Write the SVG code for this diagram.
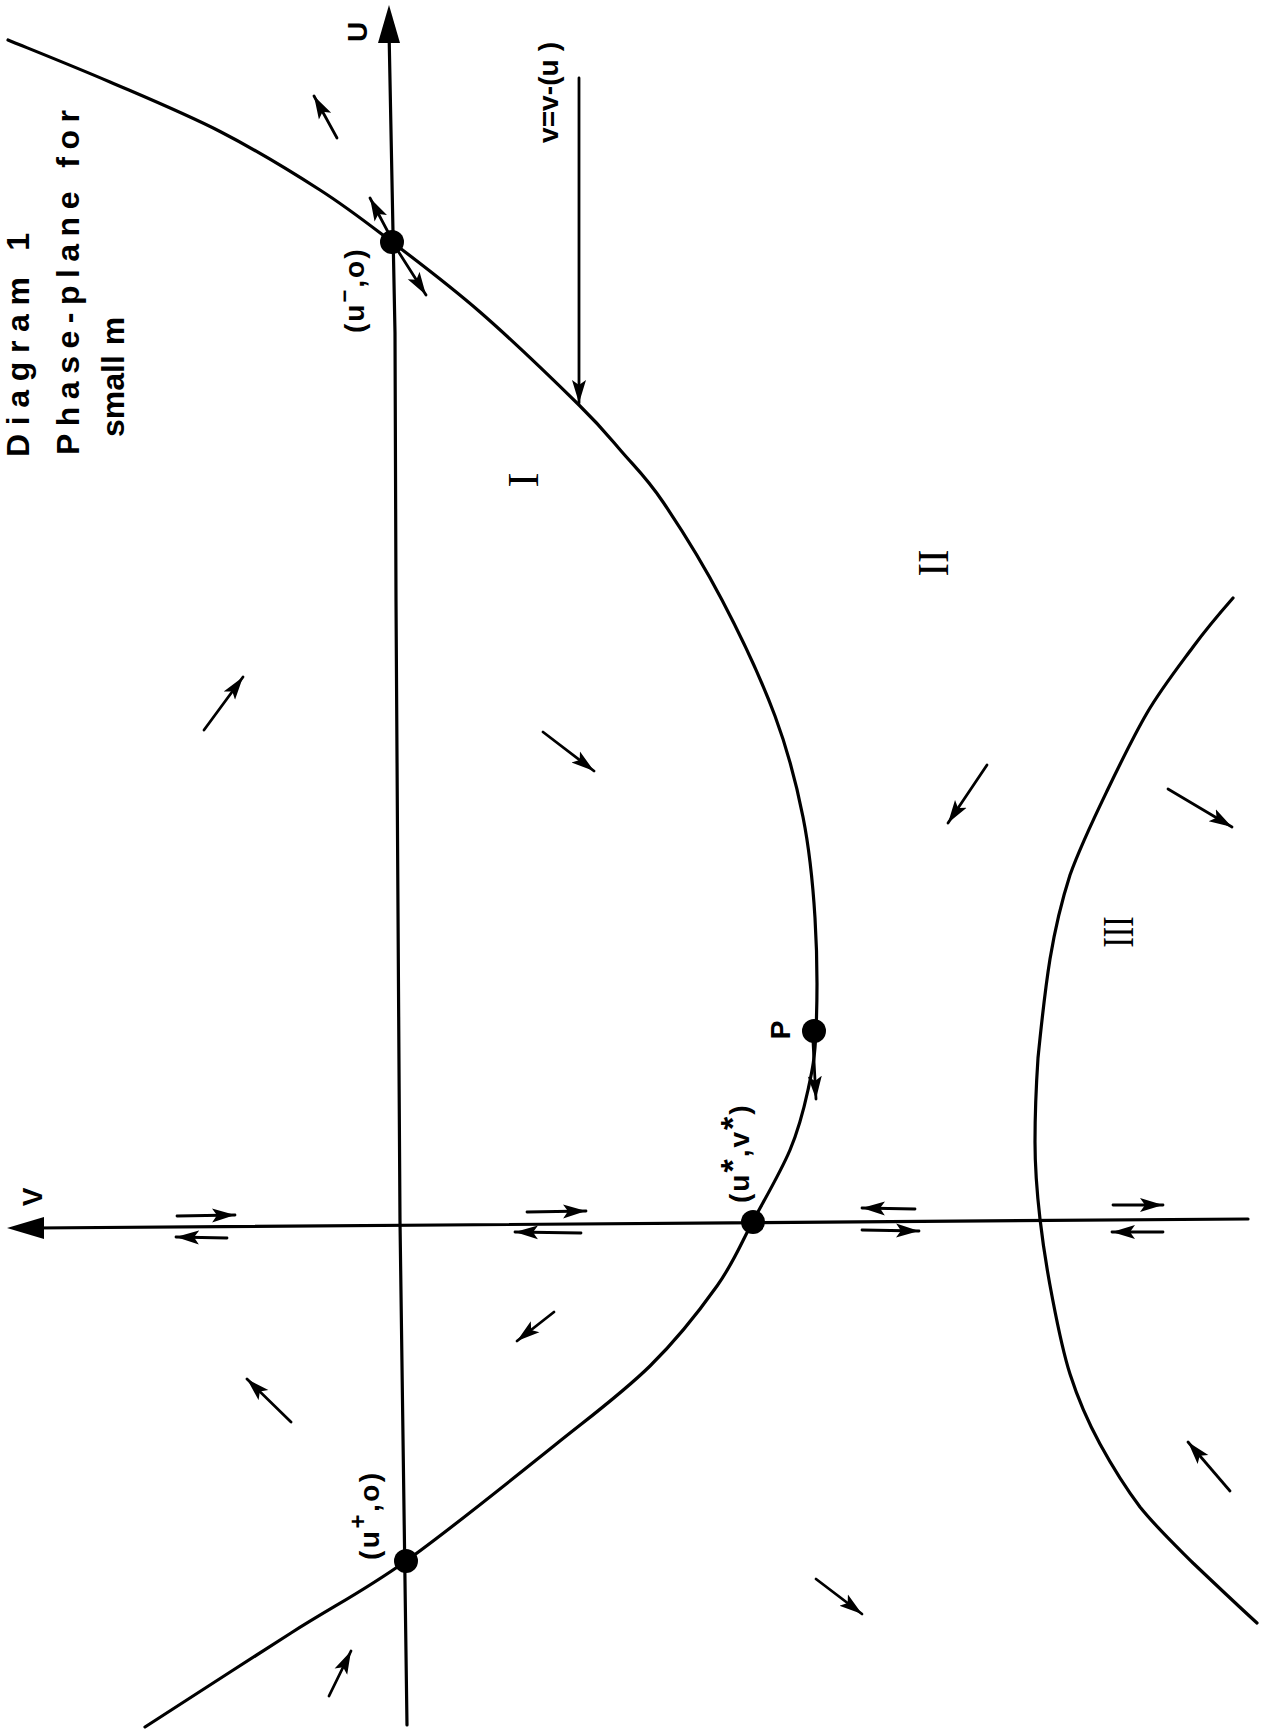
<svg xmlns="http://www.w3.org/2000/svg" width="1270" height="1733" viewBox="0 0 1270 1733">
<defs>
<style>
.ln{fill:none;stroke:#000;stroke-width:3.2;stroke-linecap:round;stroke-linejoin:round}
.ar{fill:none;stroke:#000;stroke-width:2.8;stroke-linecap:round;marker-end:url(#ah)}
.dot{fill:#000}
.lbl{font-family:"Liberation Sans",Arial,sans-serif;font-size:28px;font-weight:bold;fill:#000}
.ttl{font-family:"Liberation Sans",Arial,sans-serif;font-size:32px;font-weight:bold;fill:#000}
.rom{font-family:"Liberation Serif","Times New Roman",serif;font-size:45px;fill:#000}
</style>
<marker id="ah" markerUnits="userSpaceOnUse" markerWidth="26" markerHeight="16" refX="23" refY="7.5" orient="auto">
<path d="M0,0.5 L23,7.5 L0,14.5 L5,7.5 z" fill="#000"/>
</marker>
</defs>
<rect width="1270" height="1733" fill="#fff"/>

<g id="title">
<text class="ttl" transform="translate(29,457) rotate(-90)" textLength="224" lengthAdjust="spacing">Diagram 1</text>
<text class="ttl" transform="translate(79,455) rotate(-90)" textLength="345" lengthAdjust="spacing">Phase-plane for</text>
<text class="ttl" transform="translate(124,437) rotate(-90)">small<tspan dx="10">m</tspan></text>
</g>

<g id="connectors">
<g id="axis-U">
<path class="ln" d="M389,30 L395,333 L396,600 L400,1221 L407,1725"/>
<polygon points="389,5 378,43 400,43" fill="#000"/>
</g>
<g id="axis-V">
<path class="ln" d="M35,1228 L1248,1219"/>
<polygon points="7,1228 44,1217 44,1239" fill="#000"/>
</g>
<path id="curve-v-minus" class="ln" d="M8,40 C25,47 74.5,66.7 110,82 C145.5,97.3 186,114 221,132 C256,150 291.5,171.7 320,190 C348.5,208.3 365.3,221.7 392,242 C418.7,262.3 448.8,284.8 480,312 C511.2,339.2 555.3,381.7 579,405 C602.7,428.3 608,435.8 622,452 C636,468.2 646.3,477.3 663,502 C679.7,526.7 703.3,564.3 722,600 C740.7,635.7 761.5,679.8 775,716 C788.5,752.2 796.3,783.3 803,817 C809.7,850.7 812.8,882.3 815,918 C817.2,953.7 817.2,1002.3 816,1031 C814.8,1059.7 812.3,1070.2 808,1090 C803.7,1109.8 799.2,1128.2 790,1150 C780.8,1171.8 765.2,1198.3 753,1221 C740.8,1243.7 734.2,1261.8 717,1286 C699.8,1310.2 677,1339.5 650,1366 C623,1392.5 595.7,1412.5 555,1445 C514.3,1477.5 450,1529.7 406,1561 C362,1592.3 334.5,1605.3 291,1633 C247.5,1660.7 169.3,1711.3 145,1727"/>
<path id="curve-lower" class="ln" d="M1233,598 C1226,606 1207,628 1193,647 C1179,666 1161,689 1147,713 C1133,737 1120,764 1107,791 C1094,818 1080,847 1070,875 C1061,903 1055,929 1050,959 C1045,990 1041,1028 1038,1058 C1036,1088 1035,1115 1035,1142 C1035,1169 1037,1193 1040,1219 C1043,1245 1047,1270 1052,1296 C1057,1322 1062,1349 1070,1374 C1078,1399 1088,1422 1100,1444 C1112,1466 1125,1487 1140,1507 C1156,1527 1174,1544 1193,1563 C1213,1582 1246,1613 1257,1623"/>
<path id="pointer-v-minus" class="ar" d="M579,78 L579,403"/>
<g id="field-arrows">
<path class="ar" d="M337,138 L314,96"/>
<path class="ar" d="M204,730 L243,677"/>
<path class="ar" d="M543,732 L594,771"/>
<path class="ar" d="M987,765 L948,823"/>
<path class="ar" d="M1168,789 L1232,827"/>
<path class="ar" d="M554,1312 L517,1341"/>
<path class="ar" d="M291,1422 L247,1379"/>
<path class="ar" d="M1230,1491 L1188,1442"/>
<path class="ar" d="M816,1579 L862,1614"/>
<path class="ar" d="M329,1696 L351,1651"/>
</g>
<g id="axis-arrows">
<path class="ar" d="M177,1216 L235,1215"/>
<path class="ar" d="M227,1238 L176,1237"/>
<path class="ar" d="M527,1212 L586,1211"/>
<path class="ar" d="M581,1233 L515,1232"/>
<path class="ar" d="M915,1209 L862,1208"/>
<path class="ar" d="M862,1230 L919,1231"/>
<path class="ar" d="M1113,1205 L1163,1205"/>
<path class="ar" d="M1163,1232 L1112,1232"/>
</g>
<g id="point-arrows">
<path class="ar" d="M388,232 L370,198"/>
<path class="ar" d="M398,251 L426,295"/>
<path class="ar" d="M813,1042 L816,1099"/>
</g>
</g>

<g id="label-U"><text class="lbl" font-size="30" text-anchor="middle" transform="translate(367,32) rotate(-90)">U</text></g>
<g id="label-V"><text class="lbl" font-size="30" text-anchor="middle" transform="translate(42,1197) rotate(-90)">V</text></g>
<g id="label-v-minus"><text class="lbl" transform="translate(558,143) rotate(-90)" textLength="101" lengthAdjust="spacing">v=v-(u )</text></g>

<g id="node-u-minus">
<circle class="dot" cx="392" cy="242" r="12"/>
<text class="lbl" letter-spacing="2" transform="translate(364,333) rotate(-90)">(u<tspan baseline-shift="super" font-size="22">−</tspan>,o)</text>
</g>
<g id="node-u-plus">
<circle class="dot" cx="406" cy="1561" r="12"/>
<text class="lbl" letter-spacing="2.5" transform="translate(379,1560) rotate(-90)">(u<tspan baseline-shift="super" font-size="24">+</tspan>,o)</text>
</g>
<g id="node-u-star">
<circle class="dot" cx="753" cy="1222" r="12"/>
<text class="lbl" letter-spacing="2" transform="translate(749,1203) rotate(-90)">(u<tspan baseline-shift="5" font-size="34">*</tspan>,v<tspan baseline-shift="5" font-size="34">*</tspan>)</text>
</g>
<g id="node-P">
<circle class="dot" cx="814" cy="1031" r="12"/>
<text class="lbl" font-size="30" text-anchor="middle" transform="translate(790,1030) rotate(-90)">P</text>
</g>

<g id="region-labels">
<text class="rom" text-anchor="middle" transform="translate(538,480) rotate(-90)">I</text>
<text class="rom" text-anchor="middle" transform="translate(948,563) rotate(-90)" textLength="27" lengthAdjust="spacingAndGlyphs">II</text>
<text class="rom" text-anchor="middle" transform="translate(1133,932) rotate(-90)" textLength="31" lengthAdjust="spacingAndGlyphs">III</text>
</g>
</svg>
